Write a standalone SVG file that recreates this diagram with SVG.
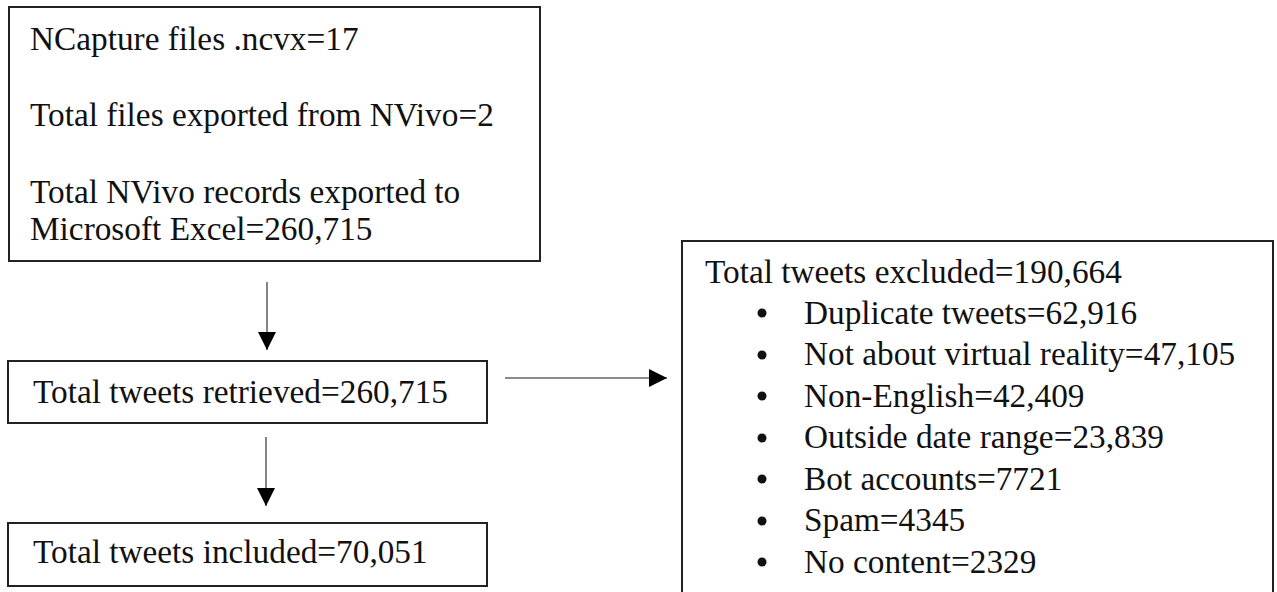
<svg xmlns="http://www.w3.org/2000/svg" width="1277" height="592" viewBox="0 0 1277 592">
<style>
.box{fill:#fff;stroke:#222;stroke-width:2}
.t{font-family:'Liberation Serif','Times New Roman',serif;font-size:33.3px;fill:#111}
.c{stroke:#666;stroke-width:1.6;fill:none}
.b{fill:#111}
</style>
<defs>
<marker id="ah" viewBox="0 0 10 10" refX="10" refY="5" markerUnits="userSpaceOnUse" markerWidth="18" markerHeight="18" orient="auto">
<path d="M0,0 L10,5 L0,10 z" fill="#000"/>
</marker>
</defs>
<rect width="1277" height="592" fill="#fff"/>
<g id="n1">
<rect class="box" x="9" y="7" width="531" height="254"/>
<text class="t" x="30" y="50">NCapture files .ncvx=17</text>
<text class="t" x="30" y="126">Total files exported from NVivo=2</text>
<text class="t" x="30" y="203">Total NVivo records exported to</text>
<text class="t" x="30" y="240">Microsoft Excel=260,715</text>
</g>
<g id="n2">
<rect class="box" x="8" y="361" width="479" height="62"/>
<text class="t" x="33" y="403">Total tweets retrieved=260,715</text>
</g>
<g id="n3">
<rect class="box" x="8" y="523" width="479" height="63"/>
<text class="t" x="33" y="563">Total tweets included=70,051</text>
</g>
<g id="n4">
<rect class="box" x="682" y="241" width="591" height="360"/>
<text class="t" x="705" y="283">Total tweets excluded=190,664</text>
<circle class="b" cx="762" cy="313" r="4.5"/>
<text class="t" x="804" y="324">Duplicate tweets=62,916</text>
<circle class="b" cx="762" cy="355" r="4.5"/>
<text class="t" x="804" y="365">Not about virtual reality=47,105</text>
<circle class="b" cx="762" cy="396" r="4.5"/>
<text class="t" x="804" y="407">Non-English=42,409</text>
<circle class="b" cx="762" cy="438" r="4.5"/>
<text class="t" x="804" y="448">Outside date range=23,839</text>
<circle class="b" cx="762" cy="479" r="4.5"/>
<text class="t" x="804" y="490">Bot accounts=7721</text>
<circle class="b" cx="762" cy="521" r="4.5"/>
<text class="t" x="804" y="531">Spam=4345</text>
<circle class="b" cx="762" cy="562" r="4.5"/>
<text class="t" x="804" y="573">No content=2329</text>
</g>
<g id="connectors">
<line class="c" x1="267" y1="282" x2="267" y2="350" marker-end="url(#ah)"/>
<line class="c" x1="266" y1="437" x2="266" y2="506" marker-end="url(#ah)"/>
<line class="c" x1="505" y1="378" x2="667" y2="378" marker-end="url(#ah)"/>
</g>
</svg>
